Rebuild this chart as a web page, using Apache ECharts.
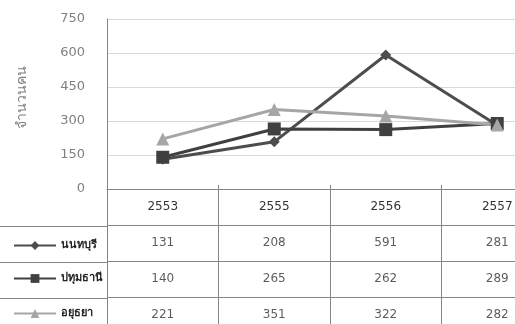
<!DOCTYPE html>
<html>
<head>
<meta charset="utf-8">
<script src="https://cdn.jsdelivr.net/npm/echarts@6/dist/echarts.min.js"></script>
<style>
  html, body { margin: 0; padding: 0; background: #fff; }
</style>
</head>
<body>
<div id="chart" style="width:515px; height:324px;"></div>
<script>
    // data
    var years = ['2553', '2555', '2556', '2557'];
    var names = ['นนทบุรี', 'ปทุมธานี', 'อยุธยา'];
    var nonthaburi = [131, 208, 591, 281];
    var pathumthani = [140, 265, 262, 289];
    var ayutthaya = [221, 351, 322, 282];
    var yTicks = [0, 150, 300, 450, 600, 750];

    var allValues = [nonthaburi, pathumthani, ayutthaya];
    var colors = ['#4d4d4d', '#404040', '#a6a6a6'];
    var symbols = ['diamond', 'rect', 'triangle'];
    var symbolSizes = [11, 13, 13];

    var font = 'DejaVu Sans';

    // cells for the data table
    var cells = [];
    allValues.forEach(function (vals, r) {
        vals.forEach(function (v, c) {
            cells.push([c, r, v]);
        });
    });

    var dom = document.getElementById('chart');
    var myChart = echarts.init(dom);

    var lineSeries = names.map(function (n, i) {
        return {
            name: n,
            type: 'line',
            xAxisIndex: 0,
            yAxisIndex: 0,
            data: allValues[i],
            symbol: symbols[i],
            symbolSize: symbolSizes[i],
            lineStyle: { width: 3, color: colors[i] },
            itemStyle: { color: colors[i] },
            animation: false
        };
    });

    // one legend per table row, so they don't wrap
    var legendTops = [235, 268, 303];
    var legends = names.map(function (n, i) {
        return {
            data: [n],
            left: 8,
            top: legendTops[i],
            itemWidth: 42,
            itemHeight: 11,
            itemGap: 4,
            textStyle: { fontFamily: font, fontSize: 11, fontWeight: 'bold', color: '#222' },
            selectedMode: false
        };
    });

    var option = {
        animation: false,
        legend: legends,
        grid: [
            // main chart (runs past the right edge, like the cropped original)
            { left: 107, top: 19, width: 446, height: 170, outerBoundsMode: 'none', containLabel: false },
            // table cells
            { left: 107, top: 189, width: 446, height: 144, outerBoundsMode: 'none', containLabel: false },
            // left column of the table
            { left: 0, top: 226, width: 107, height: 108, outerBoundsMode: 'none', containLabel: false }
        ],
        xAxis: [
            {
                gridIndex: 0,
                type: 'category',
                data: years,
                boundaryGap: true,
                axisLine: { lineStyle: { color: '#868686', width: 1 } },
                axisTick: { show: true, inside: true, length: 4, lineStyle: { color: '#868686' } },
                axisLabel: { margin: 12, fontFamily: font, fontSize: 12, color: '#333' },
                splitLine: { show: false }
            },
            {
                gridIndex: 1,
                type: 'category',
                data: years,
                boundaryGap: true,
                axisLine: { show: false },
                axisTick: { show: false },
                axisLabel: { show: false },
                splitLine: { show: true, lineStyle: { color: '#868686', width: 1 } }
            },
            {
                gridIndex: 2,
                type: 'value',
                show: false
            }
        ],
        yAxis: [
            {
                gridIndex: 0,
                type: 'value',
                min: yTicks[0],
                max: yTicks[yTicks.length - 1],
                interval: 150,
                name: 'จำนวนคน',
                nameLocation: 'middle',
                nameRotate: 90,
                nameGap: 78,
                nameTextStyle: { fontFamily: font, fontSize: 14, color: '#808080', padding: [0, 0, 0, 14] },
                axisLine: { show: true, lineStyle: { color: '#868686', width: 1 } },
                axisTick: { show: false },
                axisLabel: { margin: 22, fontFamily: font, fontSize: 13, color: '#808080' },
                splitLine: { show: true, lineStyle: { color: '#d9d9d9', width: 1 } }
            },
            {
                gridIndex: 1,
                type: 'category',
                data: ['', names[0], names[1], names[2]],
                inverse: true,
                boundaryGap: true,
                axisLine: { show: false },
                axisTick: { show: false },
                axisLabel: { show: false },
                splitLine: { show: true, lineStyle: { color: '#868686', width: 1 } }
            },
            {
                gridIndex: 2,
                type: 'category',
                data: names,
                inverse: true,
                boundaryGap: true,
                axisLine: { show: false },
                axisTick: { show: false },
                axisLabel: { show: false },
                splitLine: { show: true, lineStyle: { color: '#868686', width: 1 } }
            }
        ],
        series: lineSeries.concat([
            {
                name: 'table',
                type: 'scatter',
                xAxisIndex: 1,
                yAxisIndex: 1,
                data: cells.map(function (c) { return [c[0], c[1] + 1, c[2]]; }),
                symbolSize: 1,
                itemStyle: { color: 'rgba(0,0,0,0)' },
                label: {
                    show: true,
                    position: 'inside',
                    formatter: function (p) { return p.value[2]; },
                    fontFamily: font,
                    fontSize: 12,
                    color: '#333'
                },
                silent: true
            }
        ])
    };

    myChart.setOption(option, true);
</script>
</body>
</html>
